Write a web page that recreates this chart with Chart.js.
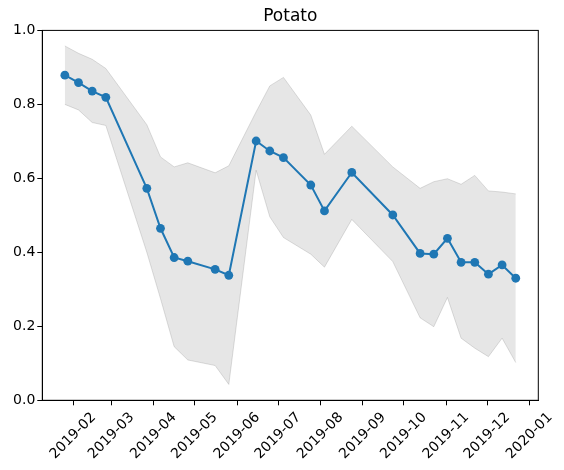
<!DOCTYPE html>
<html><head><meta charset="utf-8">
<script src="https://cdn.jsdelivr.net/npm/chart.js@4/dist/chart.umd.min.js"></script>
<style>html,body{margin:0;padding:0;background:#fff}#wrap{width:564px;height:470px;position:relative}</style>
</head><body><div id="wrap"><canvas id="c"></canvas></div>
<script>
const chartTitle = 'Potato';
const dates = ['2019-01-26','2019-02-05','2019-02-15','2019-02-25','2019-03-27','2019-04-06','2019-04-16','2019-04-26','2019-05-16','2019-05-26','2019-06-15','2019-06-25','2019-07-05','2019-07-25','2019-08-04','2019-08-24','2019-09-23','2019-10-13','2019-10-23','2019-11-02','2019-11-12','2019-11-22','2019-12-02','2019-12-12','2019-12-22'];
const values = [0.879,0.859,0.836,0.819,0.573,0.465,0.386,0.376,0.354,0.338,0.701,0.674,0.656,0.582,0.512,0.616,0.501,0.397,0.395,0.438,0.373,0.373,0.341,0.366,0.330];
const upper = [0.958,0.938,0.922,0.897,0.745,0.658,0.631,0.642,0.615,0.634,0.780,0.850,0.873,0.771,0.665,0.741,0.631,0.573,0.591,0.599,0.584,0.608,0.566,0.563,0.558];
const lower = [0.800,0.785,0.751,0.743,0.400,0.275,0.145,0.109,0.094,0.043,0.622,0.496,0.440,0.395,0.360,0.489,0.375,0.223,0.199,0.278,0.168,0.141,0.118,0.168,0.102];
const tickLabels = ['2019-02','2019-03','2019-04','2019-05','2019-06','2019-07','2019-08','2019-09','2019-10','2019-11','2019-12','2020-01'];
const yTicks = [0, 0.2, 0.4, 0.6, 0.8, 1.0];

const xs = dates.map(d => Date.parse(d));
const span = xs[xs.length - 1] - xs[0];
const xMin = xs[0] - 0.05 * span, xMax = xs[xs.length - 1] + 0.05 * span;
const tickValues = tickLabels.map(l => Date.parse(l + '-01'));
const FONT = "'DejaVu Sans', sans-serif";

const frame = {
  id: 'frame',
  afterDraw(chart) {
    const { ctx, chartArea: a } = chart;
    ctx.save();
    ctx.strokeStyle = '#000';
    ctx.lineWidth = 1;
    ctx.strokeRect(a.left, a.top, a.right - a.left, a.bottom - a.top);
    ctx.restore();
  }
};

const xLabels = {
  id: 'xLabels',
  afterDraw(chart) {
    const sc = chart.scales.x;
    const ctx = chart.ctx;
    ctx.save();
    ctx.font = '14px ' + FONT;
    ctx.fillStyle = '#000';
    ctx.textAlign = 'center';
    ctx.textBaseline = 'middle';
    const h = 14;
    const c = Math.SQRT1_2;
    sc.ticks.forEach((t, i) => {
      const px = sc.getPixelForValue(t.value);
      const w = ctx.measureText(tickLabels[i]).width;
      const bh = (w + h) * c;
      const cy = chart.chartArea.bottom + 10 + bh / 2;
      ctx.save();
      ctx.translate(px, cy);
      ctx.rotate(-Math.PI / 4);
      ctx.fillText(tickLabels[i], 0, 0);
      ctx.restore();
    });
    ctx.restore();
  }
};

const bandColor = 'rgba(128,128,128,0.2)';
const bandEdge = 'rgba(128,128,128,0.25)';

new Chart(document.getElementById('c'), {
  type: 'line',
  data: {
    datasets: [
      { label: chartTitle, data: xs.map((x, i) => ({ x, y: values[i] })), borderColor: '#1f77b4', backgroundColor: '#1f77b4',
        borderWidth: 2, pointRadius: 4.4, pointHoverRadius: 4.4, pointBorderWidth: 0, pointBorderColor: '#1f77b4',
        pointBackgroundColor: '#1f77b4', fill: false, order: 0, tension: 0 },
      { label: 'upper', data: xs.map((x, i) => ({ x, y: upper[i] })), borderColor: bandEdge, borderWidth: 1,
        backgroundColor: bandColor, pointRadius: 0, pointHoverRadius: 0, fill: '+1', order: 1, tension: 0 },
      { label: 'lower', data: xs.map((x, i) => ({ x, y: lower[i] })), borderColor: bandEdge, borderWidth: 1,
        backgroundColor: bandColor, pointRadius: 0, pointHoverRadius: 0, fill: false, order: 2, tension: 0 }
    ]
  },
  options: {
    responsive: true, maintainAspectRatio: false, animation: false,
    layout: { padding: { left: 0, right: 25.7, top: 0, bottom: 0 } },
    plugins: {
      legend: { display: false }, tooltip: { enabled: false },
      title: { display: true, fullSize: false, text: chartTitle, color: '#000', font: { family: FONT, size: 17, weight: 'normal' }, padding: { top: 6, bottom: 4 } }
    },
    scales: {
      x: {
        type: 'linear', min: xMin, max: xMax,
        afterBuildTicks: s => { s.ticks = tickValues.map(v => ({ value: v })); },
        afterFit: s => { s.height = 69.7; },
        ticks: { display: false },
        grid: { display: true, drawOnChartArea: false, drawTicks: true, tickLength: 5, color: '#000', lineWidth: 1 },
        border: { display: true, color: '#000', width: 1 }
      },
      y: {
        min: 0, max: 1,
        afterBuildTicks: s => { s.ticks = yTicks.map(v => ({ value: v })); },
        afterFit: s => { s.width = 42.3; },
        ticks: { color: '#000', font: { family: FONT, size: 14 }, padding: 2, callback: v => v.toFixed(1) },
        grid: { display: true, drawOnChartArea: false, drawTicks: true, tickLength: 5, color: '#000', lineWidth: 1 },
        border: { display: true, color: '#000', width: 1 }
      }
    }
  },
  plugins: [frame, xLabels]
});
</script>
</body></html>
